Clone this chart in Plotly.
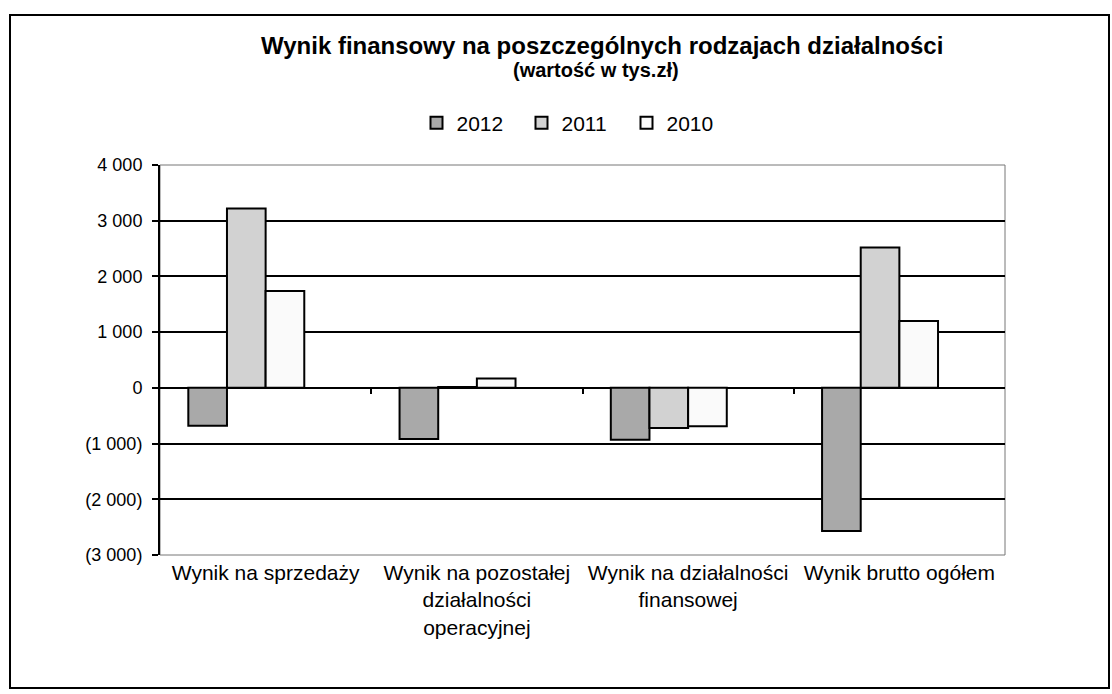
import plotly.graph_objects as go

categories = ["Wynik na sprzedaży",
              "Wynik na pozostałej<br>działalności<br>operacyjnej",
              "Wynik na działalności<br>finansowej",
              "Wynik brutto ogółem"]
years = ["2012", "2011", "2010"]
v2012 = [-680, -920, -930, -2570]
v2011 = [3220, 15, -720, 2520]
v2010 = [1740, 170, -690, 1200]
y_tickvals = [4000, 3000, 2000, 1000, 0, -1000, -2000, -3000]
y_ticktext = ["4 000", "3 000", "2 000", "1 000", "0", "(1 000)", "(2 000)", "(3 000)"]

series = [v2012, v2011, v2010]
colors = ["#a9a9a9", "#d2d2d2", "#fafafa"]
w = 0.183
offsets = [-2 * w, -w, 0]

fig = go.Figure()
for name, vals, col, off in zip(years, series, colors, offsets):
    fig.add_trace(go.Bar(
        x=categories, y=vals, name=name,
        width=w, offset=off,
        marker=dict(color=col, line=dict(color="black", width=2)),
    ))

ymin, ymax = -3000, 4000
zero_pos = (0 - ymin) / (ymax - ymin)

L, R, T, B = 160, 107, 165, 139
W, H = 1112, 694
pw, ph = W - L - R, H - T - B

def px_x(px):
    return (px - L) / pw

def px_y(py):
    return (H - B - py) / ph

fig.update_layout(
    width=W, height=H,
    margin=dict(l=L, r=R, t=T, b=B, pad=0),
    paper_bgcolor="white", plot_bgcolor="white",
    barmode="group",
    font=dict(family="Liberation Sans, Arial, sans-serif", color="black"),
    showlegend=True,
    legend=dict(orientation="h", x=px_x(574), y=px_y(123), xanchor="center", yanchor="middle",
                font=dict(size=21, family="Liberation Sans, Arial"),
                entrywidth=60, entrywidthmode="pixels",
                bgcolor="rgba(0,0,0,0)"),
    xaxis=dict(type="category", range=[-0.5, 3.5], showgrid=False, zeroline=False,
               showline=False, ticks="",
               tickfont=dict(size=21, family="Liberation Sans, Arial"),
               ticklabelstandoff=3),
    xaxis2=dict(overlaying="x", anchor="free", position=zero_pos, range=[-0.5, 3.5],
                tickvals=[0.5, 1.5, 2.5], showticklabels=False, ticks="outside",
                ticklen=5, tickwidth=2, tickcolor="black", showgrid=False,
                showline=False, zeroline=False),
    yaxis=dict(range=[ymin, ymax], tickvals=y_tickvals, ticktext=y_ticktext,
               showgrid=True, gridcolor="black", gridwidth=1.5,
               zeroline=True, zerolinecolor="black", zerolinewidth=2,
               showline=True, linecolor="black", linewidth=2,
               ticks="outside", ticklen=6, tickwidth=2, tickcolor="black",
               ticklabelstandoff=6,
               tickfont=dict(size=18, family="Liberation Sans, Arial")),
    annotations=[
        dict(text="<b>Wynik finansowy na poszczególnych rodzajach działalności</b>",
             x=px_x(602), y=px_y(45), xref="paper", yref="paper",
             showarrow=False, font=dict(size=24, family="Liberation Sans, Arial"),
             xanchor="center", yanchor="middle"),
        dict(text="<b>(wartość w tys.zł)</b>",
             x=px_x(596), y=px_y(70), xref="paper", yref="paper",
             showarrow=False, font=dict(size=20, family="Liberation Sans, Arial"),
             xanchor="center", yanchor="middle"),
    ],
    shapes=[
        dict(type="rect", xref="paper", yref="paper", x0=0, x1=1, y0=0, y1=1,
             line=dict(color="#777777", width=1), layer="below"),
        dict(type="rect", xref="paper", yref="paper",
             x0=px_x(10), x1=px_x(1109), y0=px_y(688), y1=px_y(15),
             line=dict(color="black", width=2)),
    ],
)

# invisible trace to make xaxis2 render
fig.add_trace(go.Scatter(x=[0], y=[None], xaxis="x2", showlegend=False, hoverinfo="skip"))

fig.write_html("out.html", config={"displayModeBar": False},
               post_script="document.body.style.margin='0';document.body.style.overflow='hidden';")
